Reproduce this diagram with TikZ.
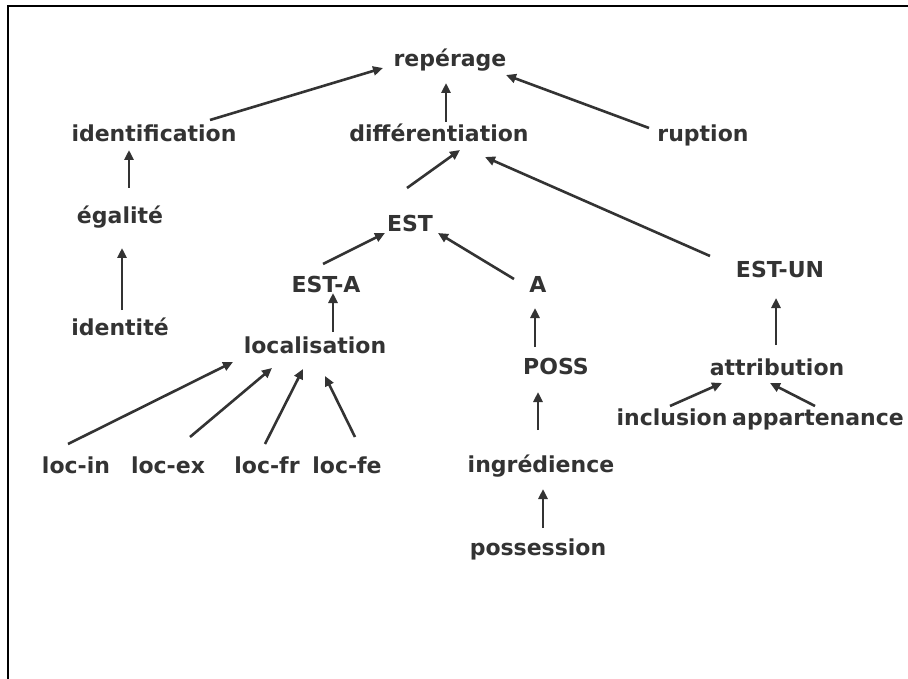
\documentclass[tikz,border=0pt]{standalone}
\usepackage{fontspec}
\setmainfont{DejaVu Sans}
\usetikzlibrary{arrows.meta}
\definecolor{ink}{HTML}{333333}
\begin{document}
\begin{tikzpicture}[x=1pt,y=-1pt,
  term/.style={anchor=base,inner sep=0pt,text=ink,
    font=\fontsize{22}{26}\selectfont\bfseries},
  link/.style={draw=ink,line width=2.6pt,
    -{Triangle[length=10pt,width=9pt]}}]
\useasboundingbox (0,0) rectangle (908,679);
% open frame
\draw[line width=1.8pt] (908,6) -- (8,6) -- (8,679);

% terms
\node[term] (rep)      at (450,67)  {repérage};
\node[term] (ident)    at (154,142) {identification};
\node[term] (diff)     at (439,142) {différentiation};
\node[term] (rupt)     at (703,142) {ruption};
\node[term] (egal)     at (120,224) {égalité};
\node[term] (est)      at (410,232) {EST};
\node[term] (estun)    at (780,277) {EST-UN};
\node[term] (esta)     at (326,292) {EST-A};
\node[term] (a)        at (538,292) {A};
\node[term] (identite) at (120,335) {identité};
\node[term] (loc)      at (315,353) {localisation};
\node[term] (poss)     at (556,374) {POSS};
\node[term] (attr)     at (777,375) {attribution};
\node[term] (incl)     at (672,425) {inclusion};
\node[term] (appart)   at (818,425) {appartenance};
\node[term] (locin)    at (76,473)  {loc-in};
\node[term] (locex)    at (168,473) {loc-ex};
\node[term] (locfr)    at (267,473) {loc-fr};
\node[term] (locfe)    at (347,473) {loc-fe};
\node[term] (ingr)     at (541,472) {ingrédience};
\node[term] (possn)    at (538,555) {possession};

% links, child to parent
\draw[link] ([shift={(56,-22)}]ident.base) -- ([shift={(-67,1)}]rep.base);
\draw[link] ([shift={(7,-20)}]diff.base) -- ([shift={(-4,16)}]rep.base);
\draw[link] ([shift={(-54,-14)}]rupt.base) -- ([shift={(56,8)}]rep.base);
\draw[link] ([shift={(-3,-44)}]est.base) -- ([shift={(21,8)}]diff.base);
\draw[link] ([shift={(-70,-21)}]estun.base) -- ([shift={(46,15)}]diff.base);
\draw[link] ([shift={(9,-36)}]egal.base) -- ([shift={(-25,8)}]ident.base);
\draw[link] ([shift={(2,-25)}]identite.base) -- ([shift={(2,24)}]egal.base);
\draw[link] ([shift={(-3,-28)}]esta.base) -- ([shift={(-25,1)}]est.base);
\draw[link] ([shift={(-24,-13)}]a.base) -- ([shift={(28,1)}]est.base);
\draw[link] ([shift={(18,-21)}]loc.base) -- ([shift={(7,1)}]esta.base);
\draw[link] ([shift={(-21,-27)}]poss.base) -- ([shift={(-3,16)}]a.base);
\draw[link] ([shift={(-1,-30)}]attr.base) -- ([shift={(-4,21)}]estun.base);
\draw[link] ([shift={(-2,-19)}]incl.base) -- ([shift={(-55,8)}]attr.base);
\draw[link] ([shift={(-3,-19)}]appart.base) -- ([shift={(-7,8)}]attr.base);
\draw[link] ([shift={(-8,-29)}]locin.base) -- ([shift={(-82,9)}]loc.base);
\draw[link] ([shift={(22,-36)}]locex.base) -- ([shift={(-43,15)}]loc.base);
\draw[link] ([shift={(-2,-29)}]locfr.base) -- ([shift={(-12,16)}]loc.base);
\draw[link] ([shift={(8,-36)}]locfe.base) -- ([shift={(10,23)}]loc.base);
\draw[link] ([shift={(-3,-42)}]ingr.base) -- ([shift={(-18,18)}]poss.base);
\draw[link] ([shift={(5,-27)}]possn.base) -- ([shift={(2,17)}]ingr.base);
\end{tikzpicture}
\end{document}
